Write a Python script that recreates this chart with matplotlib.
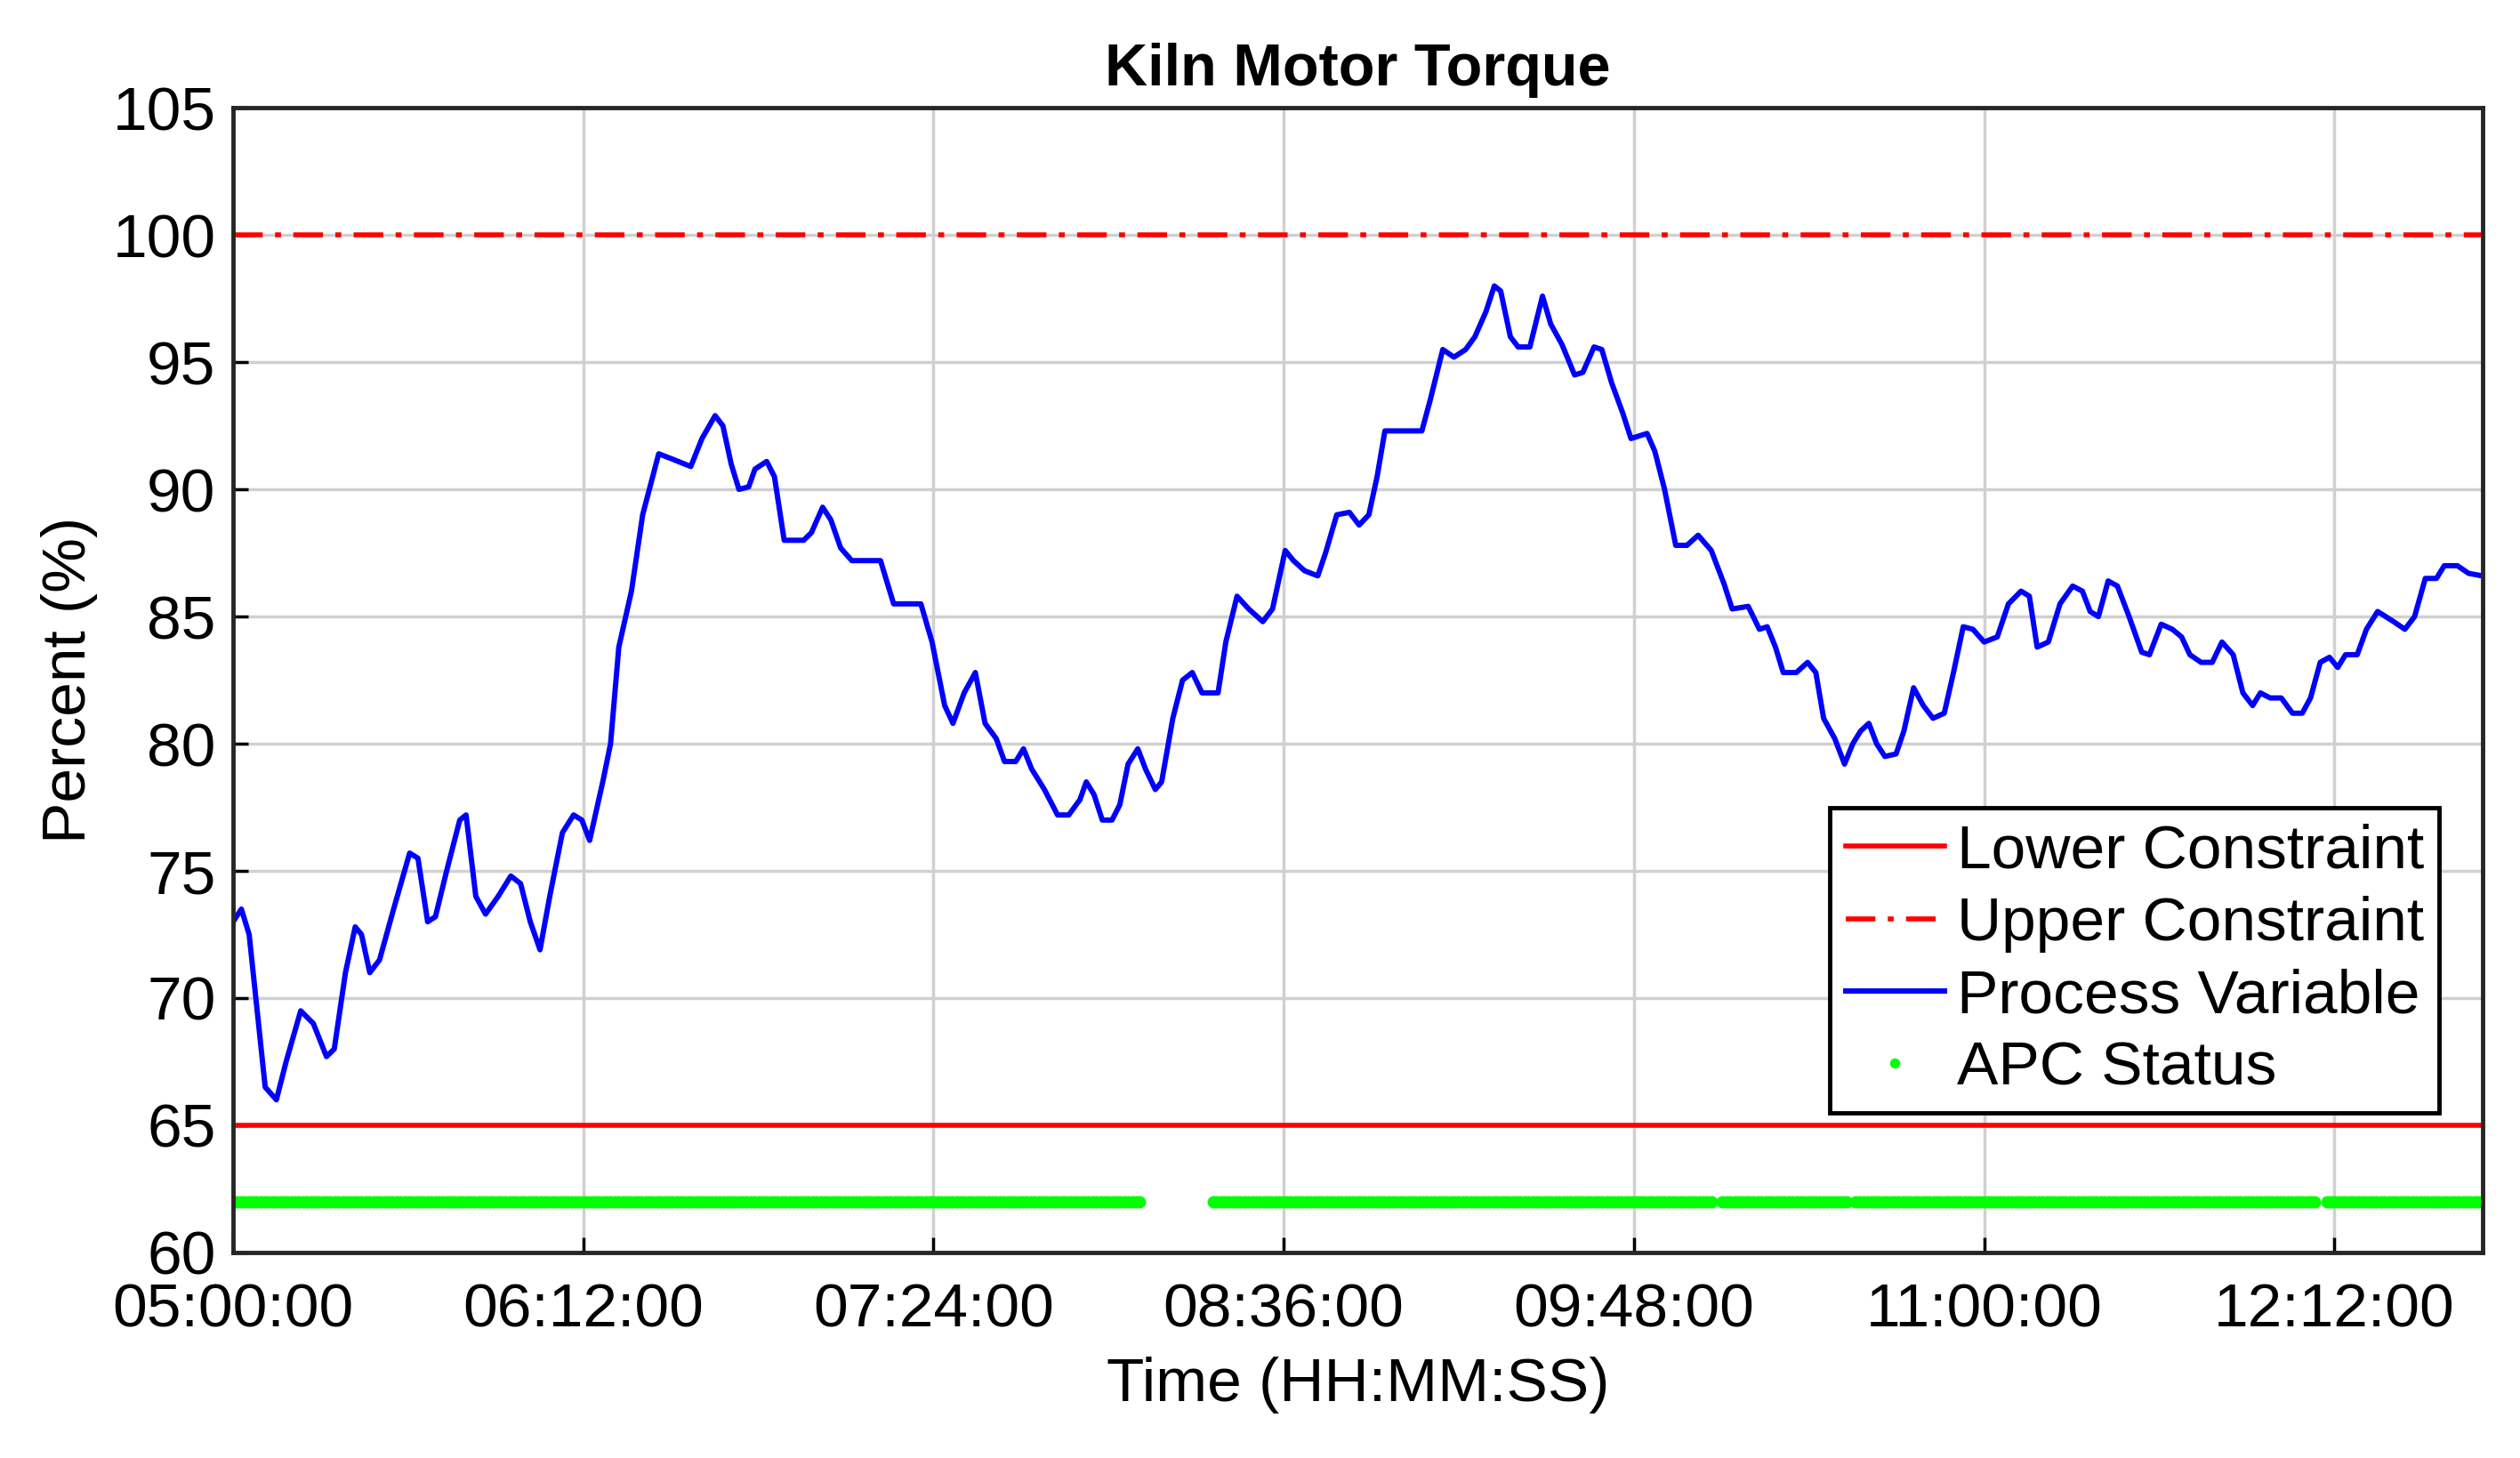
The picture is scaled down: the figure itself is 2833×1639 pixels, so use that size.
import matplotlib.pyplot as plt
import numpy as np

plt.rcParams['font.family'] = ['Liberation Sans', 'DejaVu Sans']

# minutes after 05:00:00
pv_t = [0, 1.7, 3.3, 6.6, 8.9, 10.9, 13.9, 16.5, 19.2, 20.8, 23.1, 25.1, 26.4, 28.1, 30.1, 33, 36.3, 38, 40, 41.6,
        43.9, 46.6, 47.9, 49.9, 51.9, 54.5, 57.1, 59.1, 61.1, 63.1, 65.1, 67.7, 70, 71.7, 73.3, 76, 77.6, 79.3, 81.9, 84.2,
        87.5, 90.2, 94.1, 96.4, 99.1, 100.7, 102.4, 104, 106, 107.3, 109.7, 111.3, 113.3, 117.3, 118.9, 121.2, 122.9, 124.9, 127.2, 133.1,
        135.8, 141.4, 143.7, 146.3, 148, 150.3, 152.6, 154.6, 156.9, 158.6, 160.9, 162.5, 164.2, 166.8, 169.5, 171.8, 174.1, 175.4, 177, 178.7,
        180.7, 182.3, 184, 186, 187.6, 189.6, 190.9, 193.2, 195.2, 197.2, 199.2, 202.5, 204.1, 206.4, 208.8, 211.7, 213.7, 216.3, 218, 220.3,
        223, 224.6, 226.9, 229.5, 231.5, 233.5, 235.2, 236.8, 244.4, 246.1, 248.7, 251, 253.4, 255.3, 257.6, 259.3, 260.6, 262.6, 264.2, 266.6,
        269.2, 270.9, 273.2, 275.8, 277.5, 279.8, 281.4, 283.4, 285.7, 287.4, 290.7, 292.3, 294.3, 296.6, 298.9, 301.2, 303.9, 306.5, 308.2, 311.5,
        313.8, 315.4, 317.1, 318.7, 321.4, 323.7, 325.4, 327, 329.3, 331.3, 333, 334.6, 336.3, 337.9, 339.6, 341.9, 343.5, 345.5, 347.5, 349.5,
        351.8, 353.7, 355.7, 357.7, 360, 362.7, 365, 367.6, 369.3, 370.9, 373.2, 375.6, 378.2, 380.2, 381.8, 383.5, 385.5, 387.4, 389.8, 392.4,
        394, 396.4, 398.7, 400.6, 402.3, 404.6, 406.9, 408.9, 411.2, 413.2, 415.2, 416.8, 418.8, 421.1, 423.4, 425.4, 427.1, 429.1, 431, 432.7,
        434.3, 436.7, 438.6, 440.9, 444.2, 446.5, 448.5, 450.7, 453, 454.6, 457.3, 459.6, 462.4]
pv = [73, 73.5, 72.5, 66.5, 66, 67.5, 69.5, 69, 67.7, 68, 71, 72.8, 72.5, 71, 71.5, 73.5, 75.7, 75.5, 73, 73.2,
      75, 77, 77.2, 74, 73.3, 74, 74.8, 74.5, 73, 71.9, 74, 76.5, 77.2, 77, 76.2, 78.5, 80, 83.8, 86, 89,
      91.4, 91.2, 90.9, 92, 92.9, 92.5, 91, 90, 90.1, 90.8, 91.1, 90.5, 88, 88, 88.3, 89.3, 88.8, 87.7, 87.2, 87.2,
      85.5, 85.5, 84, 81.5, 80.8, 82, 82.8, 80.8, 80.2, 79.3, 79.3, 79.8, 79, 78.2, 77.2, 77.2, 77.8, 78.5, 78, 77,
      77, 77.6, 79.2, 79.8, 79, 78.2, 78.5, 81, 82.5, 82.8, 82, 82, 84, 85.8, 85.3, 84.8, 85.3, 87.6, 87.2, 86.8,
      86.6, 87.5, 89, 89.1, 88.6, 89, 90.5, 92.3, 92.3, 93.5, 95.5, 95.2, 95.5, 96, 97, 98, 97.8, 96, 95.6, 95.6,
      97.6, 96.5, 95.7, 94.5, 94.6, 95.6, 95.5, 94.2, 93, 92, 92.2, 91.5, 90, 87.8, 87.8, 88.2, 87.6, 86.3, 85.3, 85.4,
      84.5, 84.6, 83.8, 82.8, 82.8, 83.2, 82.8, 81, 80.2, 79.2, 80, 80.5, 80.8, 80, 79.5, 79.6, 80.5, 82.2, 81.5, 81,
      81.2, 82.8, 84.6, 84.5, 84, 84.2, 85.5, 86, 85.8, 83.8, 84, 85.5, 86.2, 86, 85.2, 85, 86.4, 86.2, 85, 83.6,
      83.5, 84.7, 84.5, 84.2, 83.5, 83.2, 83.2, 84, 83.5, 82, 81.5, 82, 81.8, 81.8, 81.2, 81.2, 81.8, 83.2, 83.4, 83,
      83.5, 83.5, 84.5, 85.2, 84.8, 84.5, 85, 86.5, 86.5, 87, 87, 86.7, 86.6]

lower_limit = 65
upper_limit = 100
apc_level = 62
apc_on_start = [0, 201.5, 306.2, 333.6, 430.4]
apc_on_end = [186.6, 304.2, 331.9, 428.7, 462.4]

tick_min = [0, 72, 144, 216, 288, 360, 432]
tick_labels = ['05:00:00', '06:12:00', '07:24:00', '08:36:00', '09:48:00', '11:00:00', '12:12:00']

fig = plt.figure(figsize=(28.33, 16.39), dpi=100)
ax = fig.add_axes([0.0925, 0.141, 0.8925, 0.785])

ax.axhline(lower_limit, color='red', lw=4, label='Lower Constraint')
ax.axhline(upper_limit, color='red', lw=4, ls=(0, (6, 2.5, 1.2, 2.5)), label='Upper Constraint')
ax.plot(pv_t, pv, color='blue', lw=4.3, label='Process Variable')
apc_t = np.concatenate([np.arange(s, e, 0.8) for s, e in zip(apc_on_start, apc_on_end)])
ax.plot(apc_t, np.full(len(apc_t), apc_level), ls='none', marker='o', ms=9, color='#00ff00',
        label='APC Status')

ax.set_xlim(0, 462.4)
ax.set_ylim(60, 105)
ax.set_yticks(range(60, 106, 5))
ax.set_xticks(tick_min)
ax.set_xticklabels(tick_labels)
ax.tick_params(direction='in', labelsize=50, length=12, width=2.5)
ax.tick_params(axis='x', pad=24)
ax.tick_params(axis='y', pad=14)
ax.grid(True, color='#d0d0d0', lw=2.5)
ax.set_axisbelow(True)
for s in ax.spines.values():
    s.set_linewidth(3.5)
    s.set_color('#262626')

ax.set_title('Kiln Motor Torque', fontsize=48, fontweight='bold', pad=18)
ax.set_xlabel('Time (HH:MM:SS)', fontsize=50, labelpad=14)
ax.set_ylabel('Percent (%)', fontsize=50, labelpad=12)

leg = ax.legend(loc='lower right', bbox_to_anchor=(0.981, 0.122), fontsize=50, fancybox=False,
                edgecolor='black', framealpha=1, handlelength=1.6, handletextpad=0.2, borderpad=0.25,
                labelspacing=0.25, markerscale=0.8, borderaxespad=0)
leg.get_frame().set_linewidth(3.5)

plt.savefig('out.png')
plt.close(fig)
